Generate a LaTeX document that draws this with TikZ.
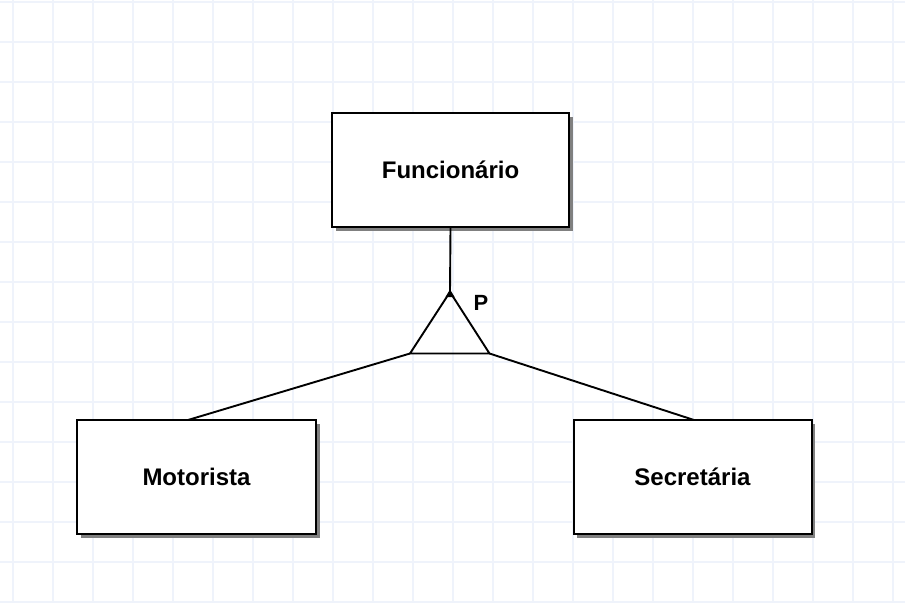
\documentclass[tikz,border=0pt]{standalone}
\usepackage{fontspec}
\setmainfont{Liberation Sans}
\usetikzlibrary{shadows}
\definecolor{gridc}{RGB}{239,243,251}
\definecolor{shadc}{RGB}{128,128,128}
\tikzset{
  entity/.style={draw=black, line width=2pt, fill=white, minimum height=114pt,
    inner sep=0pt, font=\fontsize{24}{28}\selectfont\bfseries,
    drop shadow={shadow xshift=3.5pt, shadow yshift=-3.5pt, fill=shadc, opacity=1}},
  conn/.style={line width=1.9pt, black},
  gridline/.style={line width=1.1pt, gridc}
}
\begin{document}
\begin{tikzpicture}[x=1pt,y=-1pt]
\useasboundingbox (0,0) rectangle (905,603);
\fill[white] (0,0) rectangle (905,603);
% grid
\foreach \gx in {13,53,...,893} {\draw[gridline] (\gx,0) -- (\gx,603);}
\foreach \gy in {2,42,...,602} {\draw[gridline] (0,\gy) -- (905,\gy);}
% entities
\node[entity, minimum width=237pt] (f) at (450.5,170) {\raisebox{-3pt}{Funcion\'ario}};
\node[entity, minimum width=239pt] (m) at (196.5,477) {\raisebox{-3pt}{Motorista}};
\node[entity, minimum width=238pt] (s) at (692.5,477) {\raisebox{-3pt}{Secret\'aria}};
% specialization triangle
\coordinate (apex) at (450,292);
\coordinate (bl) at (410,353.5);
\coordinate (br) at (489.5,353.5);
\coordinate (mtop) at (188,420);
\coordinate (stop) at (694,420);
\draw[conn, line join=miter] (apex) -- (bl) -- (br) -- cycle;
\fill[black] (450,289.5) -- (445.5,297) -- (454.5,297) -- cycle;
\draw[conn] (f.south) -- (apex);
\draw[conn] (bl) -- (mtop);
\draw[conn] (br) -- (stop);
\node[font=\fontsize{22}{26}\selectfont\bfseries] (p) at (481,302.5) {P};
\end{tikzpicture}
\end{document}
